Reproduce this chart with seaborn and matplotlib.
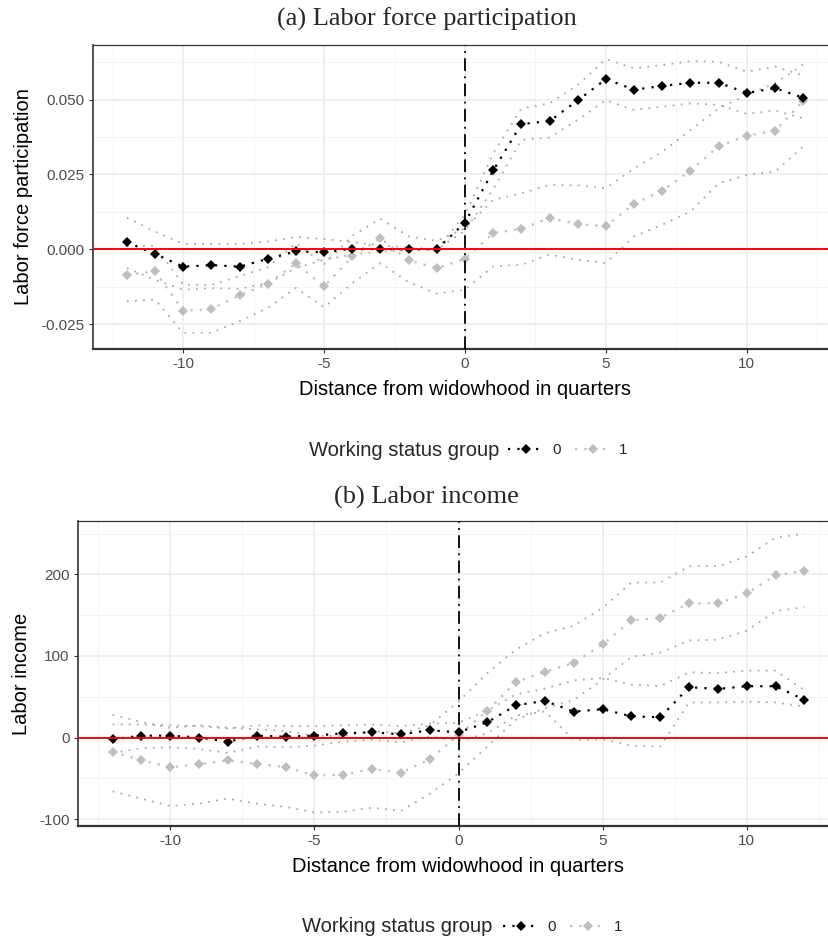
import numpy as np
import pandas as pd
import matplotlib
matplotlib.use("Agg")
import matplotlib.pyplot as plt
from matplotlib.lines import Line2D
from matplotlib.ticker import FixedLocator, FormatStrFormatter
import seaborn as sns

# quarters relative to widowhood
quarters = [-12, -11, -10, -9, -8, -7, -6, -5, -4, -3, -2, -1, 0,
            1, 2, 3, 4, 5, 6, 7, 8, 9, 10, 11, 12]

# (a) labor force participation, group 0
lfp_est_0 = [0.0024, -0.0016, -0.0058, -0.0053, -0.0058, -0.0032, -0.0007, -0.0010, 0.0002, 0.0000,
             0.0000, 0.0000, 0.0089, 0.0263, 0.0418, 0.0428, 0.0497, 0.0568, 0.0533, 0.0545,
             0.0556, 0.0556, 0.0522, 0.0538, 0.0506]
lfp_hi_0 = [0.0106, 0.0059, 0.0018, 0.0018, 0.0018, 0.0026, 0.0041, 0.0034, 0.0024, 0.0013,
            0.0006, 0.0000, 0.0115, 0.0320, 0.0470, 0.0487, 0.0548, 0.0635, 0.0604, 0.0615,
            0.0628, 0.0626, 0.0593, 0.0610, 0.0580]
lfp_lo_0 = [-0.0063, -0.0102, -0.0135, -0.0130, -0.0132, -0.0113, -0.0063, -0.0035, -0.0018, -0.0007,
            -0.0004, 0.0000, 0.0062, 0.0200, 0.0365, 0.0373, 0.0432, 0.0498, 0.0465, 0.0476,
            0.0487, 0.0482, 0.0452, 0.0463, 0.0437]
# (a) group 1
lfp_est_1 = [-0.0085, -0.0074, -0.0205, -0.0200, -0.0154, -0.0115, -0.0047, -0.0124, -0.0024, 0.0037,
             -0.0037, -0.0063, -0.0032, 0.0054, 0.0068, 0.0104, 0.0084, 0.0077, 0.0152, 0.0196,
             0.0262, 0.0344, 0.0379, 0.0396, 0.0495]
lfp_hi_1 = [0.0010, 0.0012, -0.0118, -0.0120, -0.0090, -0.0060, 0.0020, -0.0050, 0.0045, 0.0102,
            0.0043, 0.0028, 0.0070, 0.0165, 0.0187, 0.0215, 0.0213, 0.0204, 0.0270, 0.0326,
            0.0398, 0.0470, 0.0515, 0.0554, 0.0617]
lfp_lo_1 = [-0.0174, -0.0168, -0.0279, -0.0279, -0.0240, -0.0196, -0.0129, -0.0194, -0.0113, -0.0046,
            -0.0110, -0.0148, -0.0135, -0.0057, -0.0052, -0.0018, -0.0035, -0.0046, 0.0043, 0.0082,
            0.0126, 0.0220, 0.0248, 0.0259, 0.0343]

# (b) labor income, group 0
inc_est_0 = [-2.3, 2.3, 2.3, 0.0, -5.0, 2.3, 1.0, 2.3, 5.1, 6.4, 3.9, 8.8, 6.4,
             18.7, 39.6, 44.9, 31.8, 34.7, 26.0, 24.8, 61.7, 59.6, 62.9, 62.9, 46.1]
inc_hi_0 = [16, 16, 15, 14, 11, 15, 14, 14, 15, 16, 14, 17, 18,
            33, 53, 60, 70, 73, 65, 63, 80, 79, 82, 82, 58]
inc_lo_0 = [-19, -13, -12, -14, -19, -11, -12, -10, -5, -3, -6, 1, -4,
            5, 27, 32, -3, -2, -10, -11, 43, 43, 44, 43, 38]
# (b) group 1
inc_est_1 = [-17.8, -27.7, -36.7, -32.6, -28.1, -32.2, -36.3, -46.5, -45.7, -38.7, -43.2, -26.8, 3.0,
             32.6, 68.2, 80.5, 91.6, 114.1, 143.6, 146.9, 164.5, 164.5, 176.8, 199.0, 204.3]
inc_hi_1 = [28, 19, 12, 15, 12, 10, 8, 2, 2, 8, 5, 15, 44,
            79, 108, 128, 137, 159, 190, 190, 210, 210, 222, 245, 250]
inc_lo_1 = [-66, -75, -84, -81, -75, -81, -85, -92, -91, -86, -90, -69, -44,
            -11, 22, 36, 46, 71, 99, 104, 119, 120, 131, 155, 160]

groups = ["0", "1"]

sns.set_theme(style="white")
plt.rcParams["font.family"] = ["Liberation Sans", "DejaVu Sans"]
plt.rcParams["axes.unicode_minus"] = False

main_col = {"0": "black", "1": "#BEBEBE"}
ci_col = "#A9A9A9"
dots = (0, (1, 3.2))


def make_df(est0, lo0, hi0, est1, lo1, hi1):
    parts = []
    for g, e, lo, hi in [("0", est0, lo0, hi0), ("1", est1, lo1, hi1)]:
        parts.append(pd.DataFrame({"t": quarters, "est": e, "lo": lo, "hi": hi, "group": g}))
    return pd.concat(parts, ignore_index=True)


def draw_panel(ax, df, ylim, major_y, minor_y, fmt, ylabel):
    # grid like theme_bw
    for v in [-12.5, -7.5, -2.5, 2.5, 7.5, 12.5]:
        ax.axvline(v, color="#F2F2F2", lw=0.6, zorder=0)
    for v in minor_y:
        ax.axhline(v, color="#F2F2F2", lw=0.6, zorder=0)
    for v in [-10, -5, 0, 5, 10]:
        ax.axvline(v, color="#EBEBEB", lw=1.1, zorder=0)
    for v in major_y:
        ax.axhline(v, color="#EBEBEB", lw=1.1, zorder=0)

    for g in ["1", "0"]:
        sub = df[df["group"] == g]
        for col in ["lo", "hi"]:
            sns.lineplot(data=sub, x="t", y=col, ax=ax, color=ci_col, lw=1.3,
                         linestyle=(0, (1, 3.5)), errorbar=None, zorder=2)
    for g in ["1", "0"]:
        sub = df[df["group"] == g]
        sns.lineplot(data=sub, x="t", y="est", ax=ax, color=main_col[g], lw=1.6,
                     linestyle=dots, marker="D", markersize=5 if g == "0" else 5.5,
                     markeredgewidth=0, errorbar=None, zorder=4 if g == "0" else 3)

    ax.axhline(0, color="red", lw=1.4, zorder=5)
    ax.axvline(0, color="black", lw=1.3, linestyle=(0, (7, 3, 1, 3)), zorder=5)

    ax.set_xlim(-13.2, 13.2)
    ax.set_ylim(*ylim)
    ax.xaxis.set_major_locator(FixedLocator([-10, -5, 0, 5, 10]))
    ax.yaxis.set_major_locator(FixedLocator(major_y))
    ax.yaxis.set_major_formatter(FormatStrFormatter(fmt))
    ax.tick_params(axis="both", which="major", length=3, width=0.8, color="#333333",
                   labelcolor="#4D4D4D", labelsize=11, direction="out", pad=3,
                   bottom=True, left=True)
    ax.set_xlabel("Distance from widowhood in quarters", fontsize=14.5, color="black", labelpad=6)
    ax.set_ylabel(ylabel, fontsize=14.5, color="black", labelpad=6)
    for side, sp in ax.spines.items():
        sp.set_color("#333333")
        sp.set_linewidth(0.9)
    ax.spines["bottom"].set_linewidth(1.6)
    ax.spines["left"].set_linewidth(1.2)
    ax.set_facecolor("white")


fig = plt.figure(figsize=(8.29, 9.40), dpi=100)
W, H = 829.0, 940.0

ax_a = fig.add_axes([93 / W, 1 - 349 / H, (837 - 93) / W, (349 - 45) / H])
ax_b = fig.add_axes([78 / W, 1 - 826 / H, (839 - 78) / W, (826 - 521) / H])

df_a = make_df(lfp_est_0, lfp_lo_0, lfp_hi_0, lfp_est_1, lfp_lo_1, lfp_hi_1)
df_b = make_df(inc_est_0, inc_lo_0, inc_hi_0, inc_est_1, inc_lo_1, inc_hi_1)

draw_panel(ax_a, df_a, (-0.0333, 0.0682), [-0.025, 0.0, 0.025, 0.05],
           [-0.0375, -0.0125, 0.0125, 0.0375, 0.0625], "%.3f", "Labor force participation")
draw_panel(ax_b, df_b, (-108.5, 265.5), [-100, 0, 100, 200],
           [-150, -50, 50, 150, 250], "%d", "Labor income")

fig.text(427 / W, 1 - 19 / H, "(a) Labor force participation", ha="center", va="center",
         fontsize=19, family="Liberation Serif")
fig.text(426 / W, 1 - 497 / H, "(b) Labor income", ha="center", va="center",
         fontsize=19, family="Liberation Serif")

# legends: title on the left, keys to the right
handles = [Line2D([], [], color=main_col[g], lw=1.6, linestyle=dots, marker="D",
                  markersize=5, markeredgewidth=0) for g in groups]
for ytxt, xtxt, xleg in [(450, 309, 508), (927, 302, 503)]:
    fig.text(xtxt / W, 1 - ytxt / H, "Working status group", ha="left", va="center",
             fontsize=14.5)
    fig.legend(handles, groups, loc="center left", bbox_to_anchor=(xleg / W, 1 - ytxt / H),
               ncol=2, frameon=False, fontsize=11, handlelength=2.4, handletextpad=0.5,
               columnspacing=0.9, borderaxespad=0, borderpad=0)

fig.savefig("out.png", dpi=100)
